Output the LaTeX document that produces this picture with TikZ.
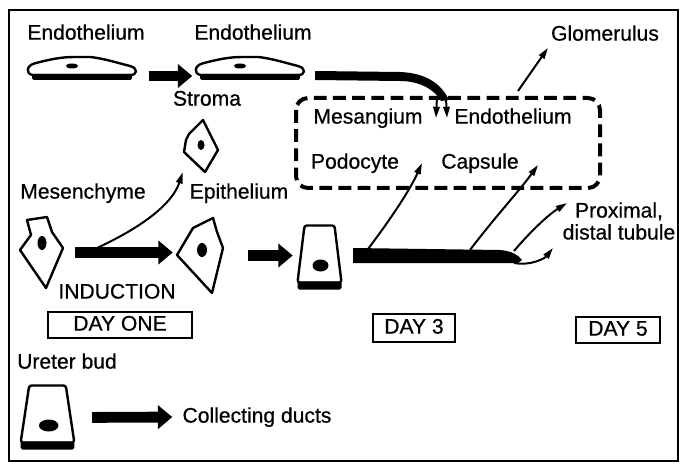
\documentclass[tikz,border=0pt]{standalone}
\usepackage{fontspec}
\setmainfont{Liberation Sans}[FakeBold=0.6]
\usetikzlibrary{arrows.meta,positioning}
\tikzstyle{txt} = [font=\fontsize{15}{15.6}\selectfont, text height=11pt, text depth=3pt, inner sep=2pt]
\tikzstyle{dayBox} = [txt, draw, line width=0.55mm, inner sep=0pt, minimum height=7mm]
\tikzstyle{cellSpot} = [inner sep=0pt]
\tikzstyle{cellLine} = [draw, line width=0.6mm, line join=round, fill=white]
\tikzstyle{bigArrow} = [line width=2.7mm, -{Triangle[length=3.6mm,width=5.8mm]}]
\tikzstyle{thinArrow} = [line width=0.5mm, -{Triangle[length=2.8mm,width=1.6mm]}]
\tikzstyle{glomBox} = [line width=1mm, dash pattern=on 3.2mm off 1.6mm, rounded corners=3mm]

% flat endothelial cell, drawn round the current origin
\newcommand{\flatcell}{%
	\draw[cellLine] (-49,-1) .. controls (-57,-2) and (-56,-11) .. (-46,-13)
		.. controls (-34,-16) and (-22,-19) .. (-8,-19) -- (8,-19)
		.. controls (20,-18) and (36,-13) .. (48,-10)
		.. controls (56,-8) and (56,-1) .. (48,-1) -- cycle;
	\fill[rounded corners=0.4mm] (-50,-2) rectangle (50,4);
	\fill (-10,-10) ellipse (6 and 2.5);
}
% cuboid cell with a dark base
\newcommand{\cubecell}{%
	\draw[cellLine, rounded corners=0.6mm] (-15,-32) -- (15,-32) -- (22,25) -- (-22,25) -- cycle;
	\fill[rounded corners=0.4mm] (-22,24) rectangle (22,32);
	\fill (1,8) ellipse (8 and 6);
}

\begin{document}
\begin{tikzpicture}[x=0.25mm, y=-0.25mm]
			\useasboundingbox (0,0) rectangle (680,464);
			\draw[line width=0.5mm] (9,10) rectangle (678,461);

			% labels
			\node (endoLabA) at (86,34) [txt] {Endothelium};
			\node (endoLabB) at (253,34) [txt] {Endothelium};
			\node (glomLab) at (605,35) [txt] {Glomerulus};
			\node (stromaLab) at (207,100) [txt] {Stroma};
			\node (mesangLab) at (368,118) [txt] {Mesangium};
			\node (endoLabC) at (513,118) [txt] {Endothelium};
			\node (podoLab) at (355,163) [txt] {Podocyte};
			\node (capsLab) at (480,163) [txt] {Capsule};
			\node (mesenLab) at (83,193) [txt] {Mesenchyme};
			\node (epiLab) at (239,193) [txt] {Epithelium};
			\node (proxLab) at (619,221) [txt, align=center, text height=, text depth=] {Proximal,\\distal tubule};
			\node (inducLab) at (117,293) [txt] {INDUCTION};
			\node (dayOne) at (120,325) [dayBox, minimum width=36mm, minimum height=6.5mm] {DAY ONE};
			\node (dayThree) at (414,328) [dayBox, minimum width=20.5mm] {DAY 3};
			\node (dayFive) at (618,330) [dayBox, minimum width=21mm, minimum height=6.5mm] {DAY 5};
			\node (ureterLab) at (67,363) [txt] {Ureter bud};
			\node (ductLab) at (257,417) [txt] {Collecting ducts};

			% cells
			\node (flatA) at (82,76) [cellSpot, minimum width=26.75mm, minimum height=2mm] {};
			\node (flatB) at (250,76) [cellSpot, minimum width=26.75mm, minimum height=2mm] {};
			\node (strCell) at (200.5,146) [cellSpot, minimum width=8.75mm, minimum height=13mm] {};
			\node (mesCell) at (41.5,252.5) [cellSpot, minimum width=10.75mm, minimum height=17.75mm] {};
			\node (epiCell) at (200,255.5) [cellSpot, minimum width=11.5mm, minimum height=18.75mm] {};
			\node (cubeCell) at (319.5,257.5) [cellSpot, minimum width=11.25mm, minimum height=16.25mm] {};
			\node (budCell) at (47.5,417.5) [cellSpot, minimum width=13.75mm, minimum height=16.25mm] {};

			\begin{scope}[shift={(flatA)}] \flatcell \end{scope}
			\begin{scope}[shift={(flatB)}] \flatcell \end{scope}
			\begin{scope}[shift={(cubeCell)}] \cubecell \end{scope}
			\begin{scope}[shift={(budCell)}, xscale=1.22] \cubecell \end{scope}

			\draw[cellLine] (203,120) -- (218,150) -- (205,172) -- (184,152) -- (186,140) -- (189,134) -- cycle;
			\fill (201,145) ellipse (3.5 and 5);
			\draw[cellLine] (27,220) -- (47,217) -- (52,232) -- (63,248) -- (46,288) -- (20,250) -- (31,235) -- cycle;
			\fill (42,243) ellipse (4.5 and 7);
			\draw[cellLine] (177,255) -- (193,228) -- (213,218) -- (217,232) -- (223,248) -- (212,293) -- cycle;
			\fill (202,250) ellipse (5 and 7);

			% glomerulus
			\draw[glomBox] (296,98) rectangle (600,188);
			\coordinate (glomFoot) at (518,91);
			\draw[thinArrow] (glomFoot) -- (glomLab.south west);

			% endothelium into the glomerulus
			\fill (315,71) -- (400,72) .. controls (425,73) and (441,83) .. (449,100) -- (441,101)
				.. controls (435,90) and (420,81) .. (400,81) -- (315,80) -- cycle;
			\coordinate (prongA) at (436,118);
			\coordinate (prongB) at (447,118);
			\draw[thinArrow] (437,96) -- (prongA);
			\draw[thinArrow] (446,98) -- (prongB);

			% tubule
			\fill (353,248) -- (500,250) .. controls (512,251) and (518,255) .. (522,260) -- (518,263) -- (353,263) -- cycle;
			\coordinate (podFork) at (368,249);
			\coordinate (podTip) at (422,163);
			\coordinate (capsFork) at (470,250);
			\coordinate (capsTip) at (538,165);
			\coordinate (proxFork) at (514,251);
			\coordinate (proxTip) at (567,203);
			\coordinate (hookFork) at (514,263);
			\coordinate (hookTip) at (553,248);
			\draw[thinArrow] (podFork) .. controls (390,220) and (410,190) .. (podTip);
			\draw[thinArrow] (capsFork) .. controls (495,217) and (520,190) .. (capsTip);
			\draw[thinArrow] (proxFork) .. controls (530,232) and (548,215) .. (proxTip);
			\draw[thinArrow] (hookFork) .. controls (532,266) and (545,258) .. (hookTip);

			% stroma branch
			\coordinate (stromaFork) at (97,248);
			\draw[thinArrow] (stromaFork) .. controls (140,228) and (172,205) .. (strCell.south west);

			% big arrows
			\draw[bigArrow, shorten <=3.2mm, shorten >=1mm] (flatA.east) -- (flatB.west);
			\draw[bigArrow, shorten <=3mm, shorten >=1mm] (mesCell.east) -- (mesCell.east -| epiCell.west);
			\draw[bigArrow, shorten <=6.25mm, shorten >=1mm] (epiCell.east) -- (epiCell.east -| cubeCell.west);
			\draw[bigArrow, shorten <=4.2mm, shorten >=1.8mm] (budCell.east) -- (ductLab.west);
\end{tikzpicture}
\end{document}
